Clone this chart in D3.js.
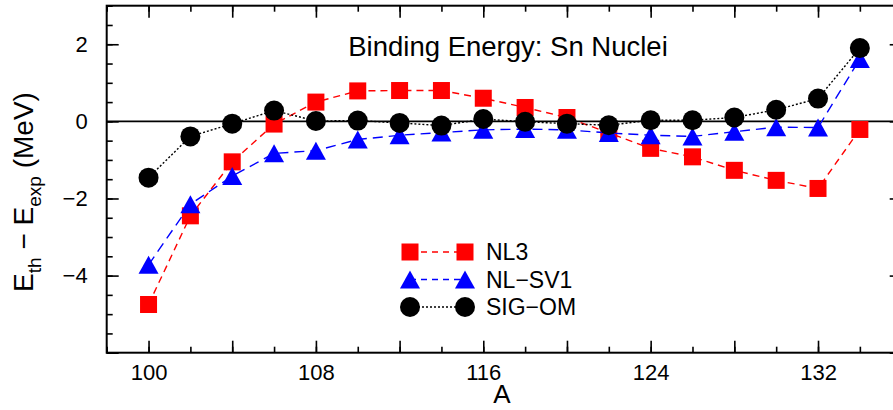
<!DOCTYPE html>
<html>
<head>
<meta charset="utf-8">
<script src="https://cdn.jsdelivr.net/npm/d3@7/dist/d3.min.js"></script>
<style>
  body { margin: 0; background: #fff; }
  svg { display: block; font-family: "Liberation Sans", Arial, Helvetica, sans-serif; }
  .axis .domain { display: none; }
  .axis line { stroke: #000; stroke-width: 1.6; }
  .axis text { font-size: 22px; fill: #000; }
</style>
</head>
<body>
<div id="chart"></div>
<script>
// mass number A of the Sn isotopes
var massNumbers = [100, 102, 104, 106, 108, 110, 112, 114, 116, 118, 120, 122, 124, 126, 128, 130, 132, 134];

// E_th - E_exp (MeV)
var nl3Values   = [-4.75, -2.45, -1.05, -0.07, 0.50, 0.79, 0.80, 0.80, 0.60, 0.36, 0.10, -0.30, -0.70, -0.92, -1.27, -1.53, -1.74, -0.21];
var nlsv1Values = [-3.72, -2.15, -1.42, -0.83, -0.76, -0.47, -0.36, -0.29, -0.22, -0.20, -0.22, -0.30, -0.36, -0.39, -0.27, -0.15, -0.16, 1.62];
var sigomValues = [-1.46, -0.39, -0.06, 0.28, 0.01, 0.02, -0.04, -0.11, 0.06, -0.01, -0.06, -0.10, 0.03, 0.03, 0.10, 0.30, 0.59, 1.90];

var seriesNames = ["NL3", "NL\u2212SV1", "SIG\u2212OM"];

// axis ticks
var xLabelTicks = [100, 108, 116, 124, 132];
var yLabelTicks = [-4, -2, 0, 2];

var cfg = {
    w: 893,
    h: 410,
    left: 106.7,
    top: 5.7,
    plotW: 795,   // frame runs past the right edge of the picture
    plotH: 347
};

var series = [
    { name: seriesNames[0], values: nl3Values,   color: "#ff0000", shape: "square",   dash: "7,5",  width: 1.4 },
    { name: seriesNames[1], values: nlsv1Values, color: "#0000ff", shape: "triangle", dash: "10,6", width: 1.4 },
    { name: seriesNames[2], values: sigomValues, color: "#000000", shape: "circle",   dash: "2,2",  width: 1.4 }
];

var svg = d3.select("#chart").append("svg")
    .attr("width", cfg.w)
    .attr("height", cfg.h);

var g = svg.append("g")
    .attr("transform", "translate(" + cfg.left + "," + cfg.top + ")");

var x = d3.scaleLinear().domain([98, 136]).range([0, cfg.plotW]);
var y = d3.scaleLinear().domain([-6, 3]).range([cfg.plotH, 0]);

var fmt = function (d) { return d < 0 ? "\u2212" + Math.abs(d) : String(d); };

// minor + major ticks on all four sides, pointing inward
function drawAxes() {
    var xMinor = d3.range(98, 137, 2), xMajor = d3.range(100, 137, 4);
    var yMinor = d3.range(-6, 3.01, 0.5), yMajor = d3.range(-6, 3.01, 2);

    g.append("g").attr("class", "axis").attr("transform", "translate(0," + cfg.plotH + ")")
        .call(d3.axisBottom(x).tickValues(xMinor).tickSize(-6).tickFormat(""));
    g.append("g").attr("class", "axis").attr("transform", "translate(0," + cfg.plotH + ")")
        .call(d3.axisBottom(x).tickValues(xMajor).tickSize(-12).tickPadding(12)
            .tickFormat(function (d) { return xLabelTicks.indexOf(d) >= 0 ? d : ""; }));
    g.append("g").attr("class", "axis")
        .call(d3.axisTop(x).tickValues(xMinor).tickSize(-6).tickFormat(""));
    g.append("g").attr("class", "axis")
        .call(d3.axisTop(x).tickValues(xMajor).tickSize(-12).tickFormat(""));

    g.append("g").attr("class", "axis")
        .call(d3.axisLeft(y).tickValues(yMinor).tickSize(-6).tickFormat(""));
    g.append("g").attr("class", "axis")
        .call(d3.axisLeft(y).tickValues(yMajor).tickSize(-12).tickPadding(19)
            .tickFormat(function (d) { return yLabelTicks.indexOf(d) >= 0 ? fmt(d) : ""; }));
    g.append("g").attr("class", "axis").attr("transform", "translate(" + cfg.plotW + ",0)")
        .call(d3.axisRight(y).tickValues(yMinor).tickSize(-6).tickFormat(""));
    g.append("g").attr("class", "axis").attr("transform", "translate(" + cfg.plotW + ",0)")
        .call(d3.axisRight(y).tickValues(yMajor).tickSize(-12).tickFormat(""));
}
drawAxes();

// frame
g.append("rect")
    .attr("width", cfg.plotW)
    .attr("height", cfg.plotH)
    .attr("fill", "none")
    .attr("stroke", "#000")
    .attr("stroke-width", 2);

// zero line
g.append("line")
    .attr("x1", 0).attr("x2", cfg.plotW)
    .attr("y1", y(0)).attr("y2", y(0))
    .attr("stroke", "#000")
    .attr("stroke-width", 1.6);

function marker(sel, shape, color) {
    if (shape === "square") {
        sel.append("rect").attr("x", -8.5).attr("y", -8.5).attr("width", 17).attr("height", 17).attr("fill", color);
    } else if (shape === "triangle") {
        sel.append("path").attr("d", "M0,-9L10,9L-10,9Z").attr("fill", color);
    } else {
        sel.append("circle").attr("r", 10).attr("fill", color);
    }
}

var line = d3.line()
    .x(function (d) { return x(d.a); })
    .y(function (d) { return y(d.v); });

series.forEach(function (s) {
    var pts = massNumbers.map(function (a, i) { return { a: a, v: s.values[i] }; });
    var sg = g.append("g").attr("class", "series");
    sg.append("path")
        .datum(pts)
        .attr("d", line)
        .attr("fill", "none")
        .attr("stroke", s.color)
        .attr("stroke-width", s.width)
        .attr("stroke-dasharray", s.dash);
    sg.selectAll(".pt")
        .data(pts)
        .enter()
        .append("g")
        .attr("class", "pt")
        .attr("transform", function (d) { return "translate(" + x(d.a) + "," + y(d.v) + ")"; })
        .each(function () { marker(d3.select(this), s.shape, s.color); });
});

// legend
var legend = svg.append("g").attr("transform", "translate(410,252)");
series.forEach(function (s, i) {
    var row = legend.append("g").attr("transform", "translate(0," + (i * 27.5) + ")");
    row.append("line")
        .attr("x1", 0).attr("x2", 55)
        .attr("stroke", s.color)
        .attr("stroke-width", s.width)
        .attr("stroke-dasharray", s.shape === "circle" ? "2,2" : "6,5");
    marker(row.append("g"), s.shape, s.color);
    marker(row.append("g").attr("transform", "translate(55,0)"), s.shape, s.color);
    row.append("text")
        .attr("x", 76).attr("y", 8)
        .style("font-size", "23px")
        .text(s.name);
});

// title
svg.append("text")
    .attr("x", 508).attr("y", 56)
    .attr("text-anchor", "middle")
    .style("font-size", "27.5px")
    .text("Binding Energy: Sn Nuclei");

// axis titles
svg.append("text")
    .attr("x", 502).attr("y", 403)
    .attr("text-anchor", "middle")
    .style("font-size", "26px")
    .text("A");

var yTitle = svg.append("text")
    .attr("transform", "translate(33,192) rotate(-90)")
    .attr("text-anchor", "middle")
    .style("font-size", "28px");
yTitle.append("tspan").text("E");
yTitle.append("tspan").attr("dy", 8).style("font-size", "19px").text("th");
yTitle.append("tspan").attr("dy", -8).text(" \u2212 E");
yTitle.append("tspan").attr("dy", 8).style("font-size", "19px").text("exp");
yTitle.append("tspan").attr("dy", -8).text(" (MeV)");
</script>
</body>
</html>
